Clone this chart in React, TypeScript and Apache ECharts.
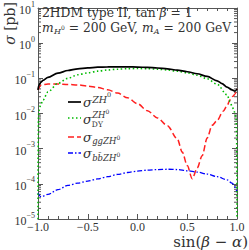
import React, { useEffect, useRef } from 'react';
import * as echarts from 'echarts';

const FONT = '"Liberation Serif", "DejaVu Serif", serif';
const FONT_T = '"DejaVu Serif", "Liberation Serif", serif';
const TXT = '#333';
const AX = '#555';

// ---- data ----
const xTickValues = [-1, -0.5, 0, 0.5, 1];
const xTickLabels = ['−1.0', '−0.5', '0.0', '0.5', '1.0'];
const yTickPowers = [-5, -4, -3, -2, -1, 0, 1];
const yTickExponents = ['−5', '−4', '−3', '−2', '−1', '0', '1'];

const xTotal = [-1, -0.99, -0.97, -0.95, -0.9, -0.8, -0.7, -0.6, -0.5, -0.4, -0.3, -0.2, -0.1, 0, 0.1, 0.2, 0.3, 0.4, 0.5, 0.6, 0.7, 0.8, 0.85, 0.9, 0.95, 0.98, 1];
const sigmaTotal = [0.047, 0.064, 0.078, 0.088, 0.106, 0.14, 0.167, 0.186, 0.198, 0.207, 0.212, 0.213, 0.212, 0.209, 0.204, 0.197, 0.186, 0.171, 0.154, 0.135, 0.113, 0.085, 0.071, 0.056, 0.047, 0.043, 0.05];

const xDY = [-1, -0.999, -0.995, -0.99, -0.975, -0.95, -0.9, -0.8, -0.7, -0.6, -0.5, -0.4, -0.3, -0.2, -0.1, 0, 0.1, 0.2, 0.3, 0.4, 0.5, 0.6, 0.7, 0.8, 0.9, 0.93, 0.95, 0.975, 0.99, 0.995, 0.999, 1];
const sigmaDY = [1e-5, 0.0006, 0.008, 0.012, 0.017, 0.024, 0.041, 0.072, 0.1, 0.126, 0.143, 0.16, 0.173, 0.182, 0.188, 0.19, 0.188, 0.182, 0.173, 0.16, 0.143, 0.122, 0.097, 0.068, 0.034, 0.022, 0.016, 0.011, 0.008, 0.004, 0.0006, 1e-5];

const xGG = [-1, -0.97, -0.9, -0.8, -0.7, -0.6, -0.5, -0.4, -0.3, -0.2, -0.1, 0, 0.1, 0.2, 0.3, 0.4, 0.45, 0.5, 0.55, 0.6, 0.65, 0.7, 0.75, 0.8, 0.86, 0.9, 0.93, 0.96, 0.98, 1];
const sigmaGG = [0.047, 0.064, 0.069, 0.069, 0.067, 0.065, 0.06, 0.055, 0.047, 0.038, 0.028, 0.019, 0.012, 0.0075, 0.0045, 0.0019, 0.0008, 0.00033, 0.00014, 0.00028, 0.00063, 0.002, 0.0046, 0.0063, 0.0115, 0.0166, 0.0245, 0.031, 0.036, 0.05];

const xBB = [-1, -0.97, -0.9, -0.8, -0.7, -0.6, -0.5, -0.4, -0.3, -0.2, -0.1, 0, 0.1, 0.2, 0.3, 0.4, 0.5, 0.6, 0.7, 0.8, 0.9, 0.95, 1];
const sigmaBB = [5.5e-5, 4.3e-5, 5e-5, 6.8e-5, 9e-5, 1.05e-4, 1.2e-4, 1.38e-4, 1.6e-4, 1.85e-4, 2.1e-4, 2.3e-4, 2.45e-4, 2.55e-4, 2.6e-4, 2.55e-4, 2.35e-4, 2.15e-4, 1.9e-4, 1.6e-4, 1.3e-4, 1.05e-4, 6e-5];

const minorLogTicks: number[] = [];
for (let e = -5; e < 1; e++) for (let k = 2; k <= 9; k++) minorLogTicks.push(k * Math.pow(10, e));

// ---- text helpers ----
let ctx: CanvasRenderingContext2D | null = null;
function textWidth(t: string, size: number, italic: boolean) {
  if (!ctx) ctx = document.createElement('canvas').getContext('2d');
  ctx!.font = `${italic ? 'italic ' : ''}${size}px ${FONT_T}`;
  return ctx!.measureText(t).width;
}
type Seg = { t: string; s: number; it?: boolean; dy?: number; dx?: number; mark?: boolean; reset?: boolean };
function mathRow(x: number, y: number, segs: Seg[]) {
  let cx = x;
  let saved = x;
  const out: any[] = [];
  for (const g of segs) {
    if (g.reset) cx = saved;
    if (g.mark) saved = cx;
    cx += g.dx || 0;
    out.push({
      type: 'text',
      x: cx,
      y: y + (g.dy || 0),
      silent: true,
      z: 10,
      style: {
        text: g.t,
        fontSize: g.s,
        fontFamily: FONT_T,
        fontStyle: g.it ? 'italic' : 'normal',
        fill: TXT,
        align: 'left',
        verticalAlign: 'middle',
      },
    });
    cx += textWidth(g.t, g.s, !!g.it);
  }
  return out;
}

function legendLine(y: number, stroke: string, dash: any, w: number) {
  return { type: 'line', silent: true, shape: { x1: 68, y1: y, x2: 81, y2: y }, style: { stroke, lineWidth: w, lineDash: dash } };
}

const pairs = (xs: number[], ys: number[]) => xs.map((x, i) => [x, ys[i]]);

export default function App() {
  const ref = useRef<HTMLDivElement>(null);
  useEffect(() => {
    if (!ref.current) return;
    const chart = echarts.init(ref.current, null, { renderer: 'svg' });

    const lineBase = { type: 'line', symbol: 'none', showSymbol: false, smooth: 0.3, smoothMonotone: 'x', xAxisIndex: 0, yAxisIndex: 0, silent: true };

    const graphics: any[] = [
      ...mathRow(42, 13, [
        { t: '2HDM type II, tan ', s: 12.3 },
        { t: 'β', s: 12.3, it: true },
        { t: ' = 1', s: 12.3 },
      ]),
      ...mathRow(42, 28, [
        { t: 'm', s: 12.3, it: true },
        { t: 'H', s: 8, it: true, dy: 3.5, dx: 0.3 },
        { t: '0', s: 6, dy: -0.5 },
        { t: ' = 200 GeV, ', s: 12.3 },
        { t: 'm', s: 12.3, it: true },
        { t: 'A', s: 8, it: true, dy: 3.5, dx: 0.3 },
        { t: ' = 200 GeV', s: 12.3 },
      ]),
      legendLine(102, '#000', null, 1.7),
      ...mathRow(83, 102.5, [
        { t: 'σ', s: 13, it: true },
        { t: 'ZH', s: 9.5, it: true, dy: -3.5, dx: 0.3 },
        { t: '0', s: 6.5, dy: -7.5 },
      ]),
      legendLine(118, '#00bb00', [1.5, 2.5], 1.5),
      ...mathRow(83, 119, [
        { t: 'σ', s: 13, it: true },
        { t: 'ZH', s: 8.5, it: true, dy: -4.5, dx: 0.3, mark: true },
        { t: '0', s: 6, dy: -8 },
        { t: 'DY', s: 7.5, dy: 5, reset: true },
      ]),
      legendLine(137, '#ff2020', [6, 3], 1.5),
      ...mathRow(83, 137, [
        { t: 'σ', s: 13, it: true },
        { t: 'ggZH', s: 8.5, it: true, dy: 4, dx: 0.3 },
        { t: '0', s: 6, dy: 0.5 },
      ]),
      legendLine(153, '#0000ff', [5, 2, 1.5, 2], 1.3),
      ...mathRow(83, 153, [
        { t: 'σ', s: 13, it: true },
        { t: 'bb̄ZH', s: 8.5, it: true, dy: 4.5, dx: 0.3 },
        { t: '0', s: 6, dy: 1 },
      ]),
      {
        type: 'text',
        x: 9.5,
        y: 2,
        rotation: Math.PI / 2,
        silent: true,
        style: {
          text: '{i|σ} [pb]',
          fontSize: 14,
          fontFamily: FONT_T,
          fill: TXT,
          align: 'right',
          verticalAlign: 'middle',
          rich: { i: { fontSize: 14, fontFamily: FONT_T, fontStyle: 'italic', fill: TXT } },
        },
      },
      {
        type: 'text',
        x: 248,
        y: 249.5,
        silent: true,
        style: {
          text: 'sin({i|β} − {i|α})',
          fontSize: 15,
          fontFamily: FONT_T,
          fill: TXT,
          align: 'right',
          verticalAlign: 'bottom',
          rich: { i: { fontSize: 15, fontFamily: FONT_T, fontStyle: 'italic', fill: TXT } },
        },
      },
    ];

    const xAxisCommon = {
      type: 'value',
      min: -1,
      max: 1,
      interval: 0.5,
      axisLine: { show: true, onZero: false, lineStyle: { color: AX, width: 1 } },
      axisTick: { show: true, inside: true, length: 5, lineStyle: { color: AX, width: 1 } },
      minorTick: { show: true, splitNumber: 5, length: 3, lineStyle: { color: AX, width: 1 } },
      splitLine: { show: false },
      minorSplitLine: { show: false },
    };
    const yAxisCommon = {
      type: 'log',
      logBase: 10,
      min: 1e-5,
      max: 10,
      splitNumber: 6,
      axisLine: { show: true, onZero: false, lineStyle: { color: AX, width: 1 } },
      axisTick: { show: true, inside: true, length: 5, lineStyle: { color: AX, width: 1 } },
      splitLine: { show: false },
    };

    chart.setOption({
      animation: false,
      backgroundColor: '#fff',
      grid: { left: 38, right: 12, top: 5, bottom: 31, containLabel: false },
      xAxis: [
        {
          ...xAxisCommon,
          position: 'bottom',
          axisLabel: {
            margin: 2,
            fontFamily: FONT,
            fontSize: 12,
            color: TXT,
            formatter: (v: number) => {
              const i = xTickValues.findIndex((t) => Math.abs(t - v) < 1e-9);
              return i >= 0 ? xTickLabels[i] : '';
            },
          },
        },
        { ...xAxisCommon, position: 'top', axisLabel: { show: false } },
      ],
      yAxis: [
        {
          ...yAxisCommon,
          position: 'left',
          axisLabel: {
            margin: 3,
            fontFamily: FONT,
            color: TXT,
            formatter: (v: number) => {
              const p = Math.round(Math.log10(v));
              const i = yTickPowers.indexOf(p);
              return i >= 0 ? `{b|10}{e|${yTickExponents[i]}}` : '';
            },
            rich: {
              b: { fontSize: 12, fontFamily: FONT, color: TXT, lineHeight: 16, verticalAlign: 'bottom' },
              e: { fontSize: 8, fontFamily: FONT, color: TXT, lineHeight: 7, verticalAlign: 'top' },
            },
          },
        },
        { ...yAxisCommon, position: 'right', axisLabel: { show: false } },
      ],
      series: [
        { ...lineBase, name: 'total', data: pairs(xTotal, sigmaTotal), lineStyle: { color: '#000', width: 1.7 }, z: 5 },
        { ...lineBase, name: 'DY', data: pairs(xDY, sigmaDY), lineStyle: { color: '#00bb00', width: 1.6, type: [1.5, 2.5] }, z: 4 },
        { ...lineBase, name: 'gg', data: pairs(xGG, sigmaGG), lineStyle: { color: '#ff2020', width: 1.5, type: [6, 3] }, z: 3 },
        { ...lineBase, name: 'bb', data: pairs(xBB, sigmaBB), lineStyle: { color: '#0000ff', width: 1.3, type: [5, 2, 1.5, 2] }, z: 3 },
        {
          type: 'custom',
          xAxisIndex: 0,
          yAxisIndex: 0,
          silent: true,
          clip: false,
          data: minorLogTicks.map((v) => [-1, v]),
          encode: { x: 0, y: 1 },
          renderItem: (_p: any, api: any) => {
            const v = api.value(1);
            const l = api.coord([-1, v]);
            const r = api.coord([1, v]);
            return {
              type: 'group',
              children: [
                { type: 'line', shape: { x1: l[0], y1: l[1], x2: l[0] + 3, y2: l[1] }, style: { stroke: AX, lineWidth: 1 } },
                { type: 'line', shape: { x1: r[0] - 3, y1: r[1], x2: r[0], y2: r[1] }, style: { stroke: AX, lineWidth: 1 } },
              ],
            };
          },
        },
      ],
      graphic: graphics,
    });
    return () => chart.dispose();
  }, []);
  return <div ref={ref} style={{ position: 'fixed', left: 0, top: 0, width: 249, height: 250, background: '#fff' }} />;
}
